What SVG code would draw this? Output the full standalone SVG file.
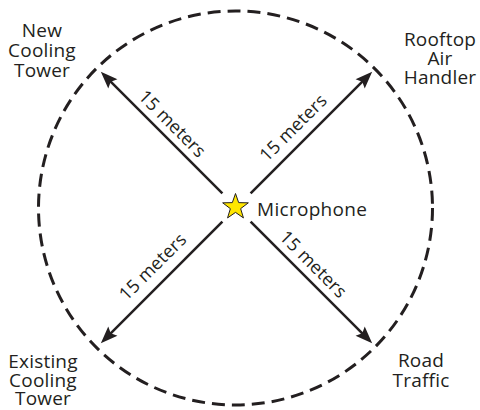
<svg xmlns="http://www.w3.org/2000/svg" width="480" height="410" viewBox="0 0 480 410">
<style>
  text { font-family: "Open Sans", "Noto Sans", "Liberation Sans", sans-serif; fill: #231f20; }
  .lbl { font-size: 19px; text-anchor: middle; letter-spacing: 0.2px; }
  .dist { font-size: 18px; text-anchor: middle; letter-spacing: 0.2px; }
  .arrow { stroke: #231f20; stroke-width: 2.5; fill: none; marker-end: url(#ah); }
  .ring { fill: none; stroke: #231f20; stroke-width: 3; stroke-dasharray: 13 7; }
</style>
<defs>
  <marker id="ah" markerUnits="userSpaceOnUse" markerWidth="20" markerHeight="14" viewBox="0 -7 18 14" refX="8" refY="0" orient="auto">
    <path d="M0,-6.5 L17,0 L0,6.5 L3,0 z" fill="#231f20"/>
  </marker>
</defs>
<g id="range">
  <circle class="ring" cx="235.5" cy="208" r="197"/>
</g>
<g id="connectors">
  <line class="arrow" x1="222.4" y1="193.4" x2="107.2" y2="78.2"/>
  <line class="arrow" x1="250.6" y1="193.4" x2="365.8" y2="78.2"/>
  <line class="arrow" x1="222.4" y1="221.6" x2="107.2" y2="336.8"/>
  <line class="arrow" x1="250.6" y1="221.6" x2="365.8" y2="336.8"/>
  <text class="dist" transform="translate(172.5,123.5) rotate(45)" y="6.5">15 meters</text>
  <text class="dist" transform="translate(293,127.5) rotate(-45)" y="6.5">15 meters</text>
  <text class="dist" transform="translate(152.5,266.5) rotate(-45)" y="6.5">15 meters</text>
  <text class="dist" transform="translate(313.5,264) rotate(45)" y="6.5">15 meters</text>
</g>
<g id="microphone">
  <polygon points="235.5,193.5 238.67,202.63 248.34,202.83 240.64,208.67 243.44,217.92 235.5,212.4 227.56,217.92 230.36,208.67 222.66,202.83 232.33,202.63" fill="#ffe600" stroke="#231f20" stroke-width="1" stroke-linejoin="miter"/>
  <text x="257" y="215.5" style="font-size:19px; letter-spacing:0.3px">Microphone</text>
</g>
<g id="new-cooling-tower">
  <text class="lbl"><tspan x="42" y="37">New</tspan><tspan x="42" y="57">Cooling</tspan><tspan x="42" y="77">Tower</tspan></text>
</g>
<g id="rooftop-air-handler">
  <text class="lbl"><tspan x="440" y="46">Rooftop</tspan><tspan x="440" y="65">Air</tspan><tspan x="440" y="84">Handler</tspan></text>
</g>
<g id="existing-cooling-tower">
  <text class="lbl"><tspan x="43" y="368">Existing</tspan><tspan x="43" y="387">Cooling</tspan><tspan x="43" y="405">Tower</tspan></text>
</g>
<g id="road-traffic">
  <text class="lbl"><tspan x="421" y="367">Road</tspan><tspan x="421" y="387">Traffic</tspan></text>
</g>
</svg>
